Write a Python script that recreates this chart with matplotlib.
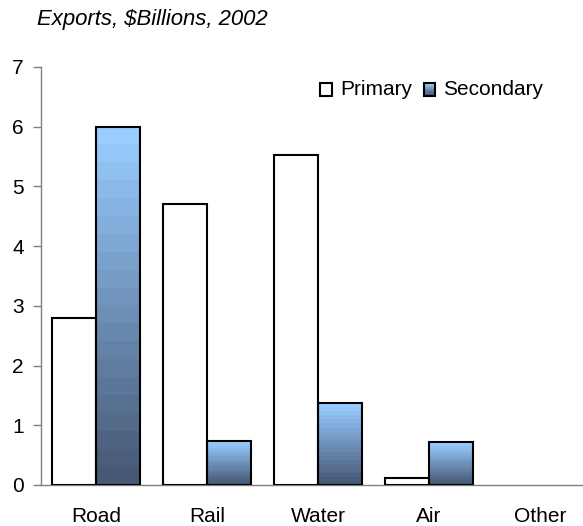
import numpy as np
import matplotlib
matplotlib.use("Agg")
import matplotlib.pyplot as plt
from matplotlib.patches import Rectangle
from matplotlib.legend_handler import HandlerBase
from matplotlib.colors import LinearSegmentedColormap

plt.rcParams['font.family'] = ['Liberation Sans', 'DejaVu Sans']

categories = ["Road", "Rail", "Water", "Air", "Other"]
primary = [2.8, 4.7, 5.53, 0.12, 0.0]
secondary = [6.0, 0.73, 1.37, 0.72, 0.0]
yticks = [0, 1, 2, 3, 4, 5, 6, 7]
title = "Exports, $Billions, 2002"

top_col = np.array([153, 204, 255]) / 255
bot_col = np.array([70, 88, 116]) / 255
cmap = LinearSegmentedColormap.from_list("g", [bot_col, top_col])
nsteps = 20

fig = plt.figure(figsize=(5.83, 5.26), dpi=100)
ax = fig.add_axes([40.5/583, 41/526, 555/583, 418/526])

x = np.arange(len(categories))
w = 0.4

pbars = ax.bar(x - w/2, primary, width=w, facecolor='white', edgecolor='black', linewidth=1.5, zorder=3)
bars = ax.bar(x + w/2, secondary, width=w, facecolor='none', edgecolor='black', linewidth=1.5, zorder=4)
for b, v in zip(list(pbars) + list(bars), primary + secondary):
    if v <= 0:
        b.set_visible(False)
grad = np.linspace(1, 0, nsteps).reshape(-1, 1)
for b, v in zip(bars, secondary):
    if v <= 0:
        continue
    x0 = b.get_x()
    ax.imshow(grad, cmap=cmap, vmin=0, vmax=1, extent=(x0, x0 + w, 0, v),
              aspect='auto', interpolation='nearest', zorder=2)
ax.set_xlim(-0.5, 4.5)
ax.set_ylim(0, 7)

for s in ['top', 'right']:
    ax.spines[s].set_visible(False)
for s in ['left', 'bottom']:
    ax.spines[s].set_color('#808080')
    ax.spines[s].set_linewidth(1.0)

ax.set_xticks(x)
ax.set_xticklabels(categories, fontsize=15)
ax.tick_params(axis='x', length=0, pad=15.5)
ax.set_yticks(yticks)
ax.set_yticklabels([str(t) for t in yticks], fontsize=15)
ax.tick_params(axis='y', length=6, color='#808080', width=1.0, pad=6)

fig.text(37/583, 1 - 20/526, title, fontsize=15.9, style='italic', ha='left', va='center')


class GradHandler(HandlerBase):
    def create_artists(self, legend, orig_handle, xdescent, ydescent, width, height, fontsize, trans):
        arts = []
        n = 6
        for i in range(n):
            c = cmap(1 - i / (n - 1))
            r = Rectangle((xdescent, ydescent + height * (n - 1 - i) / n), width, height / n,
                          facecolor=c, edgecolor='none', transform=trans)
            arts.append(r)
        arts.append(Rectangle((xdescent, ydescent), width, height, facecolor='none',
                              edgecolor='black', linewidth=1.5, transform=trans))
        return arts


class SqHandler(HandlerBase):
    def create_artists(self, legend, orig_handle, xdescent, ydescent, width, height, fontsize, trans):
        return [Rectangle((xdescent, ydescent), width, height, facecolor='white',
                          edgecolor='black', linewidth=1.5, transform=trans)]


h1 = Rectangle((0, 0), 1, 1)
h2 = Rectangle((0, 0), 1, 1, label='s')
leg = ax.legend([h1, h2], ["Primary", "Secondary"], handler_map={h1: SqHandler(), h2: GradHandler()},
                loc='upper right', bbox_to_anchor=(558/583, 1 - 65/526), bbox_transform=fig.transFigure,
                ncol=2, frameon=False, borderpad=0.2,
                fontsize=15, handlelength=0.55, handleheight=0.55, handletextpad=0.4,
                columnspacing=0.55)

fig.savefig("out.png", dpi=100)
